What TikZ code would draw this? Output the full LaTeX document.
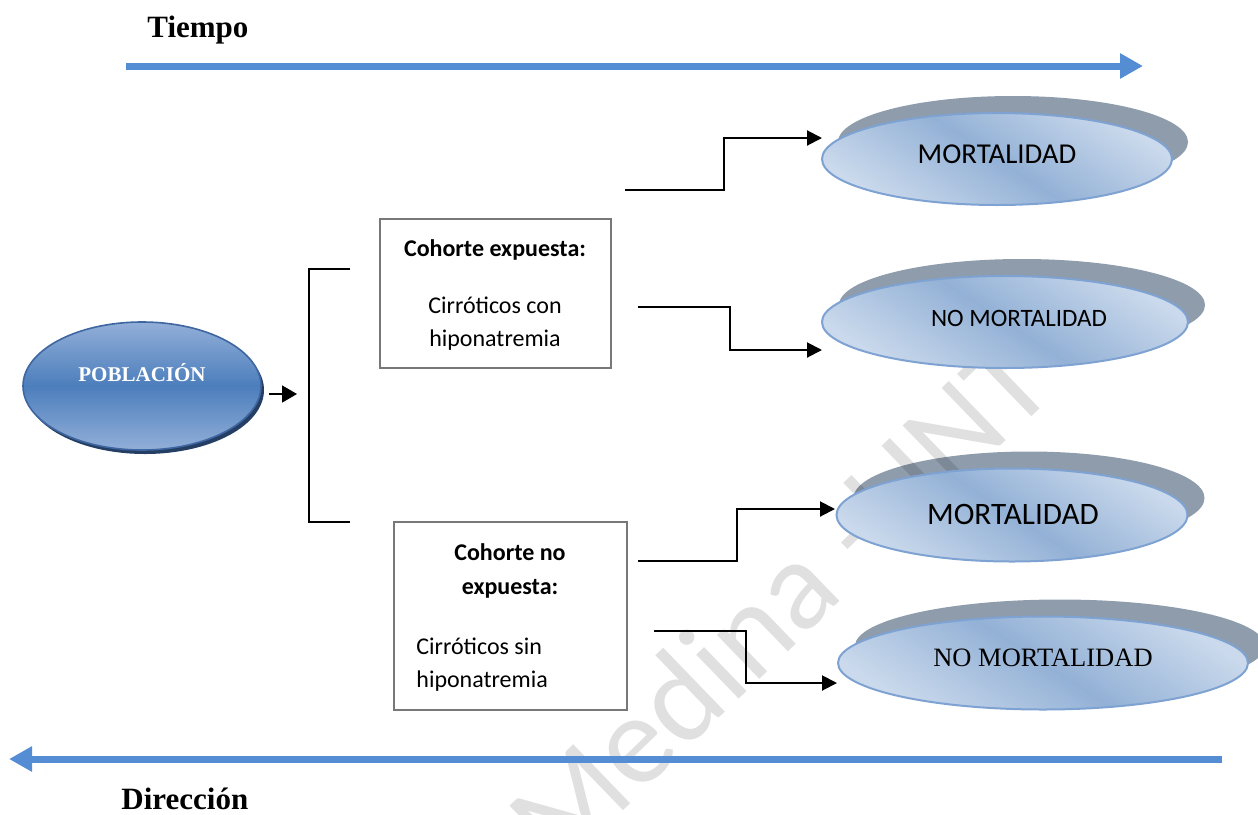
\documentclass[tikz,border=0pt]{standalone}
\usepackage{fontspec}
\setmainfont{Liberation Serif}
\newfontfamily\calfont{Carlito}
\usetikzlibrary{shapes.geometric,arrows.meta,calc}
\definecolor{tblue}{RGB}{84,141,212}
\definecolor{ovlight}{RGB}{202,217,236}
\definecolor{ovmid}{RGB}{147,177,214}
\definecolor{ovborder}{RGB}{126,162,210}
\definecolor{ovshadow}{RGB}{143,156,172}
\definecolor{pblight}{RGB}{146,175,216}
\definecolor{pbmid}{RGB}{76,126,188}
\definecolor{pbborder}{RGB}{62,102,160}
\definecolor{pbshadow}{RGB}{36,62,100}
\definecolor{boxgray}{RGB}{120,120,120}
\tikzset{
  timearrow/.style={draw=tblue, line width=3.5pt, -{Triangle[length=11.5pt,width=12pt]}},
  flow/.style={draw=black, line width=1pt, -{Triangle[length=7.5pt,width=7.5pt]}},
  bracketline/.style={draw=black, line width=0.8pt},
  oval/.style={ellipse, inner sep=0pt, draw=ovborder, line width=1pt,
    top color=ovlight, bottom color=ovlight, middle color=ovmid, shading angle=-33},
  ovalshadow/.style={ellipse, inner sep=0pt, fill=ovshadow},
  pob/.style={ellipse, inner sep=0pt, draw=pbborder, line width=0.8pt,
    top color=pblight, bottom color=pblight, middle color=pbmid},
  pobshadow/.style={ellipse, inner sep=0pt, fill=pbshadow},
  cbox/.style={rectangle, draw=boxgray, line width=1.2pt, fill=white, inner sep=0pt},
  cal/.style={font=\calfont\fontsize{12}{14}\selectfont, inner sep=0pt, anchor=base},
  calb/.style={font=\calfont\bfseries\fontsize{12}{14}\selectfont, inner sep=0pt, anchor=base},
  title/.style={font=\bfseries\fontsize{15.5}{18}\selectfont, inner sep=0pt, anchor=base west},
  wm/.style={font=\calfont\fontsize{64}{68}\selectfont, text=black, text opacity=0.12, rotate=44, inner sep=0pt}
}
\begin{document}
\begin{tikzpicture}[x=0.5pt,y=-0.5pt]
\useasboundingbox (0,0) rectangle (1258,814);

% shadows of outcome ellipses
\node[ovalshadow, minimum width=175pt, minimum height=46pt] (e1s) at (1013,142) {};
\node[ovalshadow, minimum width=183pt, minimum height=46pt] (e2s) at (1022,305) {};
\node[ovalshadow, minimum width=175.5pt, minimum height=46.5pt] (e3s) at (1029,498) {};
\node[ovalshadow, minimum width=205pt, minimum height=46.5pt] (e4s) at (1060,646) {};

% watermark
\node[wm] (wm) at (778,600) {Medina -UNT};

% time arrows
\coordinate (ta) at (126,66);
\coordinate (tb) at (1143,66);
\draw[timearrow] (ta) -- (tb);
\coordinate (da) at (1222,759);
\coordinate (db) at (9,759);
\draw[timearrow] (da) -- (db);

\node[title] (tiempo) at (147,37) {Tiempo};
\node[title] (direccion) at (121,809) {Dirección};

% population
\node[pobshadow, minimum width=119pt, minimum height=64pt] (pos) at (145,390) {};
\node[pob, minimum width=119pt, minimum height=64pt] (po) at (142,386) {};
\node[font=\bfseries\fontsize{10.5}{12}\selectfont, text=white, inner sep=0pt, anchor=base] (pot) at (142,381) {POBLACIÓN};

\coordinate (pa) at (269,394);
\coordinate (pb) at (297,394);
\draw[draw=black, line width=0.8pt, -{Triangle[length=7.5pt,width=8.5pt]}] (pa) -- (pb);

% bracket
\coordinate (bt) at (350,269);
\coordinate (bb) at (350,522);
\draw[bracketline] (bt) -- ++(-41,0) |- (bb);

% cohort boxes
\node[cbox, minimum width=115.5pt, minimum height=74.5pt] (b1) at (495.5,293.5) {};
\node[calb] (b1a) at (495,256) {Cohorte expuesta:};
\node[cal] (b1b) at (495,313) {Cirróticos con};
\node[cal] (b1c) at (495,346) {hiponatremia};

\node[cbox, minimum width=116.5pt, minimum height=94pt] (b2) at (510.5,616) {};
\node[calb] (b2a) at (510,560) {Cohorte no};
\node[calb] (b2b) at (510,594) {expuesta:};
\node[cal, anchor=base west] (b2c) at (416,654) {Cirróticos sin};
\node[cal, anchor=base west] (b2d) at (416,687) {hiponatremia};

% outcome ellipses
\node[oval, minimum width=175pt, minimum height=46pt] (e1) at (997,159) {};
\node[oval, minimum width=183pt, minimum height=46pt] (e2) at (1005,322) {};
\node[oval, minimum width=175.5pt, minimum height=46.5pt] (e3) at (1012,515) {};
\node[oval, minimum width=205pt, minimum height=46.5pt] (e4) at (1043,663) {};

\node[font=\calfont\fontsize{14.4}{16}\selectfont, inner sep=0pt, anchor=base] (e1t) at (997,163) {MORTALIDAD};
\node[font=\calfont\fontsize{12.5}{14}\selectfont, inner sep=0pt, anchor=base] (e2t) at (1019,326) {NO MORTALIDAD};
\node[font=\calfont\fontsize{15.6}{18}\selectfont, inner sep=0pt, anchor=base] (e3t) at (1013,524) {MORTALIDAD};
\node[font=\fontsize{13.25}{15}\selectfont, inner sep=0pt, anchor=base] (e4t) at (1043,666) {NO MORTALIDAD};

% connectors
\coordinate (c1) at (625,190);
\coordinate (t1) at (822,138);
\coordinate (c2) at (638,307);
\coordinate (t2) at (822,350);
\coordinate (c3) at (638,561);
\coordinate (t3) at (835,509);
\coordinate (c4) at (654,631);
\coordinate (t4) at (837,683);
\draw[flow] (c1) -| ($(c1)!.5!(t1)$) |- (t1);
\draw[flow] (c2) -| ($(c2)!.5!(t2)$) |- (t2);
\draw[flow] (c3) -| ($(c3)!.5!(t3)$) |- (t3);
\draw[flow] (c4) -| ($(c4)!.5!(t4)$) |- (t4);
\end{tikzpicture}
\end{document}
